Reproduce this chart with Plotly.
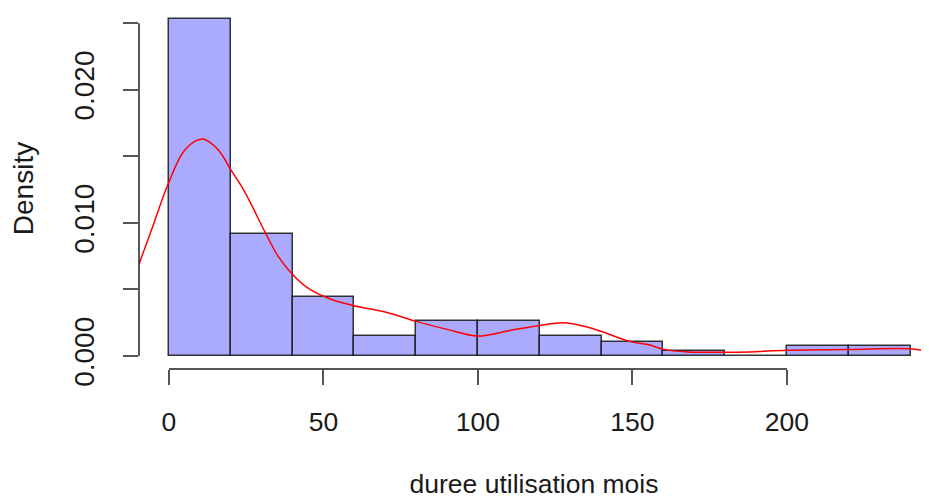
import plotly.graph_objects as go

# Histogram bins (left edges, width 20) and densities
bin_left = [0, 20, 40, 60, 80, 100, 120, 140, 160, 180, 200, 220]
bin_width = 20
density = [0.0253, 0.0092, 0.0044, 0.0015, 0.0026, 0.0026, 0.0015, 0.00108,
           0.00036, 0.0, 0.00078, 0.00078]

# Kernel density curve
kde_x = [-9.7, -5.6, -0.3, 5.2, 10.9, 15.9, 20, 24.6, 31.1, 35.3, 39.7, 45, 52,
         59.5, 70, 80, 90, 100, 110, 120, 127.6, 135, 140.5, 149, 155, 160, 168,
         178, 188, 200, 220, 240, 246]
kde_y = [0.0069, 0.0095, 0.0129, 0.0155, 0.0163, 0.0155, 0.0140, 0.0123, 0.0093,
         0.0075, 0.0062, 0.0051, 0.0043, 0.0038, 0.0033, 0.0026, 0.0020, 0.0015,
         0.0019, 0.0023, 0.0025, 0.0022, 0.0018, 0.0011, 0.00086, 0.0005, 0.00031,
         0.00029, 0.00031, 0.00044, 0.00049, 0.00054, 0.0003]

x_ticks = [0, 50, 100, 150, 200]
y_ticks = [0.0, 0.005, 0.010, 0.015, 0.020, 0.025]
y_ticktext = ["0.000", "", "0.010", "", "0.020", ""]

centers = [b + bin_width / 2 for b in bin_left]

FONT = "Liberation Sans, Arial, sans-serif"
AX = "#555555"

fig = go.Figure()
fig.add_trace(go.Bar(
    x=centers, y=density, width=bin_width,
    marker=dict(color="rgb(170,170,255)",
                line=dict(color="rgba(20,20,20,0.85)", width=1.5)),
    hoverinfo="skip",
))
fig.add_trace(go.Scatter(
    x=kde_x, y=kde_y, mode="lines",
    line=dict(color="rgb(255,0,0)", width=1.5, shape="spline", smoothing=1.0),
    hoverinfo="skip",
))

fig.update_layout(
    width=929, height=500,
    margin=dict(l=131, r=8, t=0, b=138.5, autoexpand=False),
    paper_bgcolor="white", plot_bgcolor="white",
    showlegend=False, bargap=0,
    font=dict(family=FONT, size=26, color="#1a1a1a"),
    xaxis=dict(
        range=[-9.7, 245.96], showgrid=False, zeroline=False, showline=False,
        automargin=False,
        tickmode="array", tickvals=x_ticks, ticktext=[str(v) for v in x_ticks],
        ticks="outside", ticklen=15, tickwidth=1.5, tickcolor=AX,
        ticklabelstandoff=14,
        title=dict(text="duree utilisation mois", standoff=38,
                   font=dict(size=26.5)),
        tickfont=dict(size=26.5),
    ),
    yaxis=dict(
        range=[-0.000975, 0.02614], showgrid=False, zeroline=False, showline=False,
        automargin=False,
        tickmode="array", tickvals=y_ticks, ticktext=y_ticktext,
        ticks="outside", ticklen=15, tickwidth=1.5, tickcolor=AX,
        tickangle=-90, ticklabelstandoff=18,
        title=dict(text="Density", standoff=30, font=dict(size=28)),
        tickfont=dict(size=28),
    ),
)

# R-style axis lines spanning only the tick range
fig.add_shape(type="line", xref="paper", yref="y", x0=0, x1=0,
              y0=y_ticks[0], y1=y_ticks[-1], line=dict(color="#222222", width=1.5))
fig.add_shape(type="line", xref="x", yref="paper", x0=x_ticks[0], x1=x_ticks[-1],
              y0=0, y1=0, line=dict(color=AX, width=2))

fig.write_html("out.html")
